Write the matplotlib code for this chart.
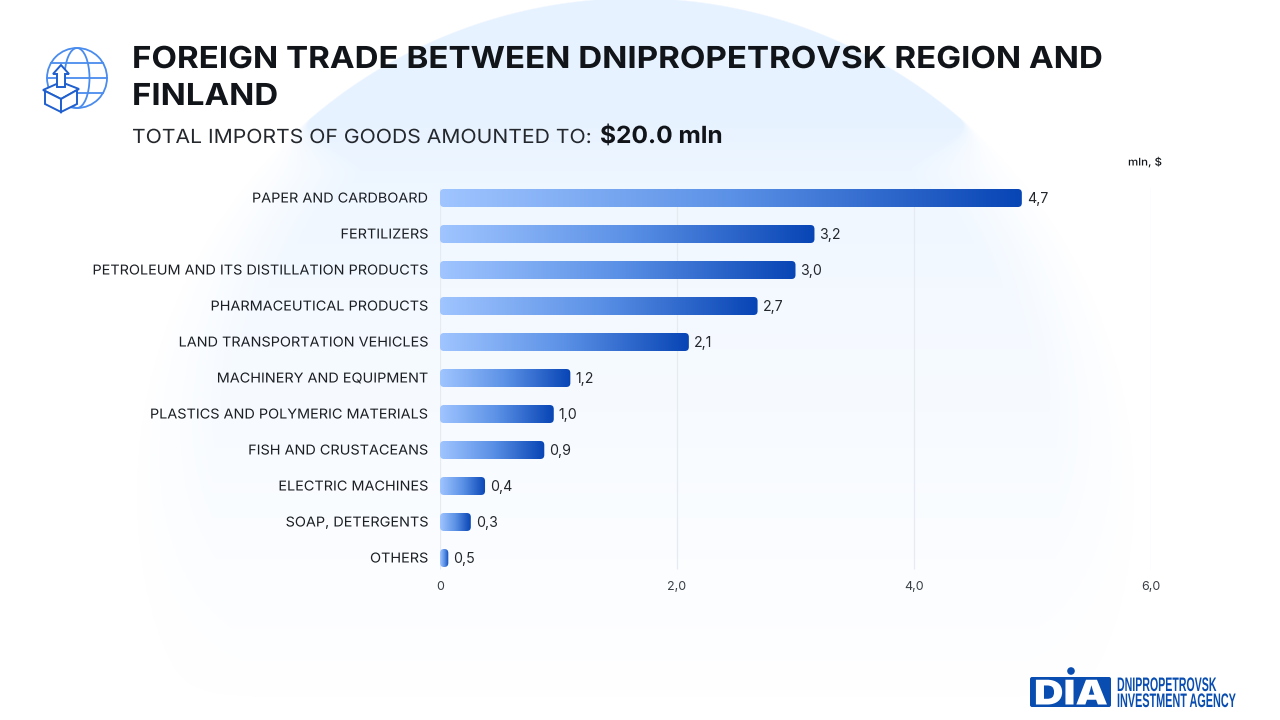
import numpy as np
import matplotlib
matplotlib.use('Agg')
import matplotlib.pyplot as plt
import matplotlib.patheffects as pe
from matplotlib.colors import LinearSegmentedColormap
from matplotlib.patches import FancyBboxPatch, Circle, Ellipse, Polygon
from matplotlib.transforms import Affine2D

categories = ['PAPER AND CARDBOARD', 'FERTILIZERS', 'PETROLEUM AND ITS DISTILLATION PRODUCTS',
              'PHARMACEUTICAL PRODUCTS', 'LAND TRANSPORTATION VEHICLES', 'MACHINERY AND EQUIPMENT',
              'PLASTICS AND POLYMERIC MATERIALS', 'FISH AND CRUSTACEANS', 'ELECTRIC MACHINES',
              'SOAP, DETERGENTS', 'OTHERS']
# bar lengths as drawn, the printed labels do not always agree with them
values = [4.91, 3.16, 3.00, 2.68, 2.10, 1.10, 0.96, 0.88, 0.38, 0.26, 0.07]
value_labels = ['4,7', '3,2', '3,0', '2,7', '2,1', '1,2', '1,0', '0,9', '0,4', '0,3', '0,5']
x_ticks = [0, 2, 4, 6]
x_tick_labels = ['0', '2,0', '4,0', '6,0']

W, H = 1280, 720
DARK = '#111418'
plt.rcParams['font.family'] = ['Inter', 'DejaVu Sans']


class Stretch(pe.AbstractPathEffect):
    # scale a text around (x0, y0) in display px, the reference fonts are not installed
    def __init__(self, x0, sx, dy=0, y0=0, sy=1):
        super().__init__()
        self.x0, self.sx, self.dy, self.y0, self.sy = x0, sx, dy, y0, sy

    def draw_path(self, renderer, gc, tpath, affine, rgbFace=None):
        aff = affine + (Affine2D().translate(-self.x0, self.dy - self.y0).scale(self.sx, self.sy)
                        .translate(self.x0, self.y0))
        renderer.draw_path(gc, tpath, aff, rgbFace)


fig = plt.figure(figsize=(W / 100, H / 100), dpi=100, facecolor='white')
renderer = fig.canvas.get_renderer()


def fit(t, x0, width):
    t.set_path_effects([Stretch(x0, width / t.get_window_extent(renderer).width)])


def fit_tall(t, x0, width, baseline, sy):
    # same as fit, and taller around the baseline (given in px from the top)
    sx = width / t.get_window_extent(renderer).width
    t.set_path_effects([Stretch(x0, sx, y0=H - baseline, sy=sy)])


# pixel overlay for background, icon and logo
bg = fig.add_axes([0, 0, 1, 1], zorder=0)
bg.set_xlim(0, W)
bg.set_ylim(H, 0)
bg.axis('off')

yy, xx = np.mgrid[0:H, 0:W]
dist = np.hypot(xx - 635, yy - 497)
ramp = np.clip((yy - 118) / 60, 0, 1)
soft = 1.5 + 75 * ramp * ramp * (3 - 2 * ramp)
edge = np.clip((500 - dist) / soft, 0, 1)
fade = np.interp(yy, [0, 115, 150, 200, 300, 450, 600, 700], [1, 1, 0.8, 0.62, 0.44, 0.28, 0.11, 0])
rgba = np.zeros((H, W, 4))
rgba[..., 0] = 0xE6 / 255
rgba[..., 1] = 0xF2 / 255
rgba[..., 2] = 1.0
rgba[..., 3] = edge * fade
bg.imshow(rgba, extent=(0, W, H, 0), aspect='auto', interpolation='bilinear')

# globe icon
ic = '#1F5FCE'
ic2 = '#4A8CEE'
bg.add_patch(Circle((77, 78), 30, fill=False, ec=ic2, lw=1.3))
bg.add_patch(Ellipse((77, 78), 25, 60, fill=False, ec=ic2, lw=1.3))
for yl, half in [(63, 26), (78, 30), (93, 26)]:
    bg.plot([77 - half, 77 + half], [yl, yl], color=ic2, lw=1.3)
bg.add_patch(Polygon([(43, 90), (61, 82), (79, 89), (61, 99)], closed=True, fc='white', ec=ic, lw=1.4, zorder=3))
bg.add_patch(Polygon([(45, 91), (61, 99), (61, 112), (45, 104)], closed=True, fc='white', ec=ic, lw=1.4, zorder=3))
bg.add_patch(Polygon([(61, 99), (77, 90), (77, 104), (61, 112)], closed=True, fc='white', ec=ic, lw=1.4, zorder=3))
bg.add_patch(Polygon([(57, 87), (57, 74), (53, 74), (61, 65), (69, 74), (65, 74), (65, 87)],
                     closed=True, fc='white', ec=ic, lw=1.4, zorder=4))

# titles
t = bg.text(132, 68, 'FOREIGN TRADE BETWEEN DNIPROPETROVSK REGION AND', fontsize=21.8, fontweight='bold',
            color=DARK, va='baseline', ha='left')
fit(t, 132, 970)
t = bg.text(132, 105, 'FINLAND', fontsize=21.8, fontweight='bold', color=DARK, va='baseline', ha='left')
fit(t, 132, 146)
t = bg.text(132, 143, 'TOTAL IMPORTS OF GOODS AMOUNTED TO:', fontsize=14, color='#24282D', va='baseline', ha='left')
fit(t, 132, 459)
t = bg.text(600, 143, '$20.0 mln', fontsize=17, fontweight='bold', color=DARK, va='baseline', ha='left')
fit(t, 600, 123)
t = bg.text(1128, 162, 'mln, $', fontsize=7.6, fontweight='medium', color=DARK, va='center', ha='left')
fit(t, 1128, 34)

# logo
logo = '#0A4DB0'
bg.add_patch(FancyBboxPatch((1030, 677), 81, 30, boxstyle='round,pad=0,rounding_size=2', fc=logo, ec='none'))
bg.add_patch(Circle((1071, 671), 3.8, fc=logo, ec='none'))
t = bg.text(1034, 704.5, 'DIA', fontsize=24.5, fontweight='black', color='white', ha='left', va='baseline')
fit(t, 1034, 74)
narrow = ['Liberation Sans', 'DejaVu Sans']
t = bg.text(1117, 691, 'DNIPROPETROVSK', family=narrow, fontsize=8.8, fontweight='bold', color=logo,
            ha='left', va='baseline', zorder=5)
fit_tall(t, 1117, 100, 691, 1.6)
t = bg.text(1117, 707, 'INVESTMENT AGENCY', family=narrow, fontsize=8.8, fontweight='bold', color=logo,
            ha='left', va='baseline', zorder=5)
fit_tall(t, 1117, 120, 707, 1.6)

# chart axes: 0 at x=440, 6 at x=1151, rows every 36px
left, right, top, bottom = 440, 1151, 180, 576
ax = fig.add_axes([left / W, 1 - bottom / H, (right - left) / W, (bottom - top) / H], zorder=1)
ax.patch.set_alpha(0)
for s in ax.spines.values():
    s.set_visible(False)

ax.vlines(x_ticks, -0.28, 10.3, color='#E6EBF1', lw=0.9, zorder=1)

cmap = LinearSegmentedColormap.from_list('bar', ['#A0C5FF', '#5B91E6', '#0845B5'])
grad = np.linspace(0, 1, 256).reshape(1, -1)
px_x = (right - left) / 6
px_y = (bottom - top) / 11
bar_h = 18 / 36
for i, (v, lab) in enumerate(zip(values, value_labels)):
    r = min(4 / px_x, v / 2)
    box = FancyBboxPatch((0, i - bar_h / 2), v, bar_h, boxstyle=f'round,pad=0,rounding_size={r}',
                         mutation_aspect=px_x / px_y, fc='none', ec='none', transform=ax.transData)
    ax.add_patch(box)
    im = ax.imshow(grad, extent=(0, v, i + bar_h / 2, i - bar_h / 2), aspect='auto', cmap=cmap, zorder=2)
    im.set_clip_path(box)
    ax.annotate(lab, (v, i), xytext=(3.6, 0), textcoords='offset points', va='center_baseline', ha='left',
                fontsize=10.2, color='#24282D')

ax.set_xlim(0, 6)
ax.set_ylim(10.5, -0.5)
ax.set_yticks(range(len(categories)))
ax.set_yticklabels(categories, fontsize=9.8, color='#1B1F24')
ax.set_xticks(x_ticks)
ax.set_xticklabels(x_tick_labels, fontsize=9, color='#3A3F46')
ax.tick_params(axis='y', length=0, pad=8.6)
ax.tick_params(axis='x', length=0, pad=3.6)
for lab in ax.get_yticklabels():
    lab.set_path_effects([Stretch(428, 1.06, dy=1)])

fig.savefig('out.png', dpi=100)
